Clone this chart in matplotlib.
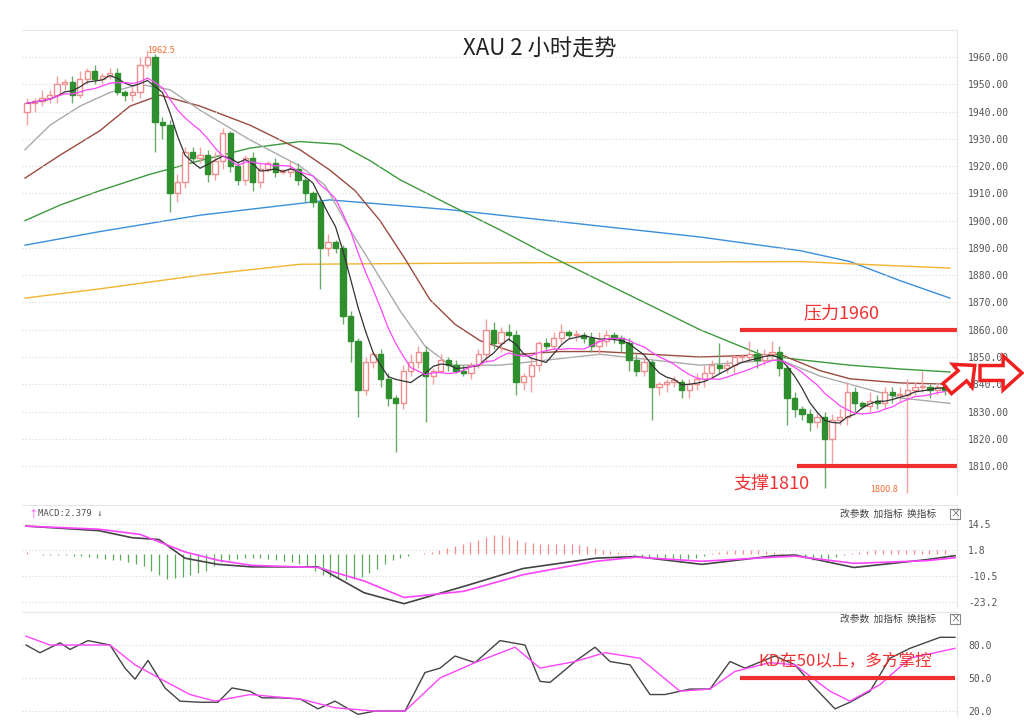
import matplotlib
matplotlib.use("Agg")
import matplotlib.pyplot as plt
import numpy as np
import pandas as pd
from matplotlib.patches import Rectangle, Polygon

plt.rcParams['font.family'] = ['Noto Sans CJK SC', 'DejaVu Sans']

closes = [1943,1944,1945,1946,1950,1951,1946,1952,1955,1952,1953,1954,1947,1946,1947,1957,1960,1936,
          1935,1910,1914,1925,1923,1924,1917,1922,1932,1920,1915,1923,1914,1919,1921,1918,1918,1919,
          1915,1910,1907,1890,1892,1890,1865,1856,1838,1848,1851,1842,1835,1833,1845,1848,1852,1843,
          1845,1849,1847,1845,1844,1847,1851,1860,1855,1859,1858,1841,1843,1847,1855,1854,1857,1859,
          1858,1858,1857,1854,1856,1858,1857,1855,1849,1845,1848,1839,1840,1841,1841,1838,1840,1842,
          1844,1847,1846,1847,1850,1850,1851,1849,1851,1852,1846,1835,1831,1829,1826,1828,1820,1827,
          1828,1837,1833,1832,1834,1833,1837,1836,1836,1838,1839,1839,1838,1839,1838]
first_open = 1940
wick_up = [2,1,3,2,3,1,2,3,1,2,1,2,2,1,2,3,2.5,1,
           2,2,3,2,2,3,2,3,2,1,2,1,2,2,1,2,1,3,
           2,1,1,2,3,1,1,2,1,2,1,2,2,1,2,3,2,2,
           1,2,1,2,2,1,2,4,3,2,3,2,1,3,1,2,2,3,
           1,2,1,2,3,2,1,1,2,2,2,1,1,1,2,1,2,2,
           3,2,8,2,1,1,5,2,2,4,2,1,2,1,2,2,2,2,
           3,4,2,1,3,2,2,2,3,4,2,6,1,2,1]
wick_dn = [5,3,2,2,3,2,3,1,2,2,2,1,1,2,2,2,1,11,
           5,7,3,2,2,2,3,2,3,2,2,2,3,2,1,2,1,2,
           2,3,2,15,3,2,3,8,10,2,2,3,3,18,2,2,2,17,
           3,1,2,1,1,2,1,3,2,3,2,5,3,6,2,2,1,2,
           1,2,2,2,3,2,2,3,4,2,2,12,3,3,2,3,3,2,
           3,2,2,2,3,2,2,3,2,2,3,10,3,2,3,2,18,9,
           2,3,3,1,2,2,2,3,2,36,2,2,3,2,2]

# moving-average readings: (x pixel, price)
ma_blue_x = [25,100,200,330,450,600,700,800,850,900,950]
ma_blue = [1891,1896,1902,1907.6,1904,1898,1894,1889,1885,1878,1871.6]
ma_orange_x = [25,100,200,300,500,800,880,950]
ma_orange = [1871.6,1875,1880,1884,1884.5,1885,1883.7,1882.6]
ma_green_x = [25,60,100,150,200,250,300,340,370,400,450,500,550,600,650,700,760,800,850,900,950]
ma_green = [1900,1905.7,1911,1917,1922,1926.6,1929,1928,1922,1915,1905.7,1896.6,1887,1878,1869,1860,1851,1849,1847,1845.6,1844.5]
ma_brown_x = [25,60,100,130,160,200,250,300,330,355,380,405,430,455,480,520,560,600,650,700,780,820,850,900,950]
ma_brown = [1915.6,1924,1933,1942,1946,1942,1935,1926,1918.5,1911,1900,1886,1871,1862,1856,1851,1852,1852,1851,1850,1851,1845,1842,1840.5,1840]
ma_gray_x = [25,50,80,110,140,170,200,250,300,325,350,375,400,425,450,500,600,700,780,820,850,900,950]
ma_gray = [1926,1935,1942,1947,1950,1948,1940.5,1929.6,1920,1913,1896.6,1882,1867,1854,1847,1847,1851,1847,1849,1843,1840,1835,1833]

# MACD readings (x pixel position, value)
dif_x = [26,99,132,159,185,218,252,318,364,404,464,523,596,636,702,775,795,854,927,955]
dif = [13.5,11.3,7.9,7,-2,-5,-6.2,-6.2,-18.7,-24,-15.6,-7,-2,-1.2,-5,-0.8,-0.5,-6.5,-2.7,-0.8]
dea_x = [26,99,140,185,218,252,318,364,404,464,523,596,636,702,775,795,854,927,955]
dea = [13.5,12,9.5,1,-3,-5.5,-6.5,-13,-21,-18,-10,-3.5,-1.5,-3.5,-1.5,-1,-4.5,-3.2,-1.8]
hist = [1,0,-0.5,-0.5,-0.5,-0.6,-0.8,-1,-1.5,-2,-2.5,-3,-3,-4,-5,-6,-8,-10,-12,-11.8,-11,-10,-9,-8,
        -6,-4,-3,-2.5,-2,-2,-2,-2.5,-3,-3.5,-4,-5,-6,-8,-10,-11,-12,-12.6,-12,-11,-9,-7,-5,-3,-2,-1,
        0,0.5,1,2,3,4,5,6,7,8,9,9,8,7,6,5.5,5,5,5,5,5,4.5,4,3,2,1.5,1,0.5,-0.5,-1,-1.5,-2,-2.5,-3,-3,
        -2.5,-2,-1,0.5,1,1.5,2,2,2,2,1.5,1,0.5,-0.5,-1,-2,-3,-3,-2.5,-1.5,-0.5,0.5,1,1.5,2,2,2,2,2,2,1.5,2,2,2]

# KD readings (x pixel, value)
k_x = [26,40,60,70,88,110,125,135,148,165,180,200,218,232,250,262,280,300,318,335,358,375,405,425,440,455,475,500,525,540,550,575,595,610,630,650,665,690,710,730,745,775,795,815,835,850,870,890,910,940,955]
k_v = [80,73,82,76,84,80,59,49,66,41,29,28,28,41,38,32,32,31,22,29,17,20,20,55,59,70,64,84,80,47,46,65,78,65,62,35,35,40,40,65,59,70,62,41,22,28,38,68,77,87,87]
d_x = [26,50,110,135,165,190,215,250,300,335,375,405,440,475,515,540,575,605,640,680,710,735,770,795,830,850,880,910,955]
d_v = [88,80,80,62,47,35,29,35,31,23,20,20,50,64,78,59,65,73,68,38,40,56,64,62,38,29,44,68,77]

price_ticks = list(range(1810, 1961, 10))

W, H = 1024, 720
fig = plt.figure(figsize=(W/100, H/100), dpi=100)
fig.patch.set_facecolor('white')
x0, x1 = 22, 957
step = (945 - 27) / (len(closes) - 1)
def px2i(px):
    return (np.asarray(px) - 27) / step
xl = (px2i(x0), px2i(x1))

def mk(top, bot):
    ax = fig.add_axes([x0/W, 1-bot/H, (x1-x0)/W, (bot-top)/H])
    ax.set_xlim(*xl)
    for k, s in ax.spines.items():
        s.set_color('#e6e6e6')
        if k in ('left', 'bottom'):
            s.set_visible(False)
    ax.yaxis.tick_right()
    ax.tick_params(axis='y', length=0, labelsize=7, colors='#555555', pad=8)
    ax.set_xticks([])
    return ax

ax = mk(30, 495)
ax.set_ylim(1799.4, 1969.9)
ax.set_yticks(price_ticks)
ax.set_yticklabels([f"{t:.2f}" for t in price_ticks], family='DejaVu Sans Mono')
ax.grid(axis='y', color='#d8d8d8', linestyle=(0, (1, 2)), lw=0.8)

opens = [first_open] + closes[:-1]
for i, (o, c) in enumerate(zip(opens, closes)):
    hi = max(o, c) + wick_up[i]
    lo = min(o, c) - wick_dn[i]
    up = c >= o
    col = '#f08c8c' if up else '#2f8f2f'
    ax.vlines(i, lo, hi, color='#f4a0a0' if up else '#6aaa6a', lw=1, zorder=2)
    body = max(abs(c - o), 0.4)
    ax.add_patch(Rectangle((i - 0.35, min(o, c)), 0.7, body,
                           facecolor='white' if up else col, edgecolor=col, lw=1, zorder=3))

ax.plot(px2i(ma_blue_x), ma_blue, color='#3a8fdc', lw=1, zorder=1)
ax.plot(px2i(ma_orange_x), ma_orange, color='#f5b330', lw=1, zorder=1)
ax.plot(px2i(ma_green_x), ma_green, color='#3c9a3c', lw=1, zorder=1)
ax.plot(px2i(ma_brown_x), ma_brown, color='#9b4a3e', lw=1, zorder=1)
ax.plot(px2i(ma_gray_x), ma_gray, color='#aaaaaa', lw=1, zorder=1)
cs = pd.Series(closes)
ax.plot(cs.rolling(5, min_periods=1).mean(), color='#333333', lw=0.9, zorder=4)
ax.plot(cs.rolling(10, min_periods=1).mean(), color='#ff44ff', lw=0.9, zorder=4)

ax.text(16, 1962.5, "1962.5", color='#f07030', fontsize=6.5, va='center')
ax.text(px2i(870), 1801.5, "1800.8", color='#f07030', fontsize=6.5, va='center')
ax.hlines(1860, px2i(740), px2i(957), color='#f03030', lw=3)
ax.hlines(1810, px2i(797), px2i(957), color='#f03030', lw=3)
ax.text(px2i(803), 1866, "压力1960", color='#f03030', fontsize=13, va='center')
ax.text(px2i(733), 1803.5, "支撑1810", color='#f03030', fontsize=13, va='center')
ax.text(px2i(540), 1963, "XAU 2 小时走势", color='#222222', fontsize=16, ha='center', va='center')

# MACD
axm = mk(505, 607)
axm.set_ylim(-25.6, 23.7)
mt = [14.5, 1.8, -10.5, -23.2]
axm.set_yticks(mt); axm.set_yticklabels([str(t) for t in mt], family='DejaVu Sans Mono')
axm.grid(axis='y', color='#d8d8d8', linestyle=(0, (1, 2)), lw=0.8)
hx = np.arange(len(hist)) * (len(closes) - 1) / (len(hist) - 1)
axm.vlines(hx, 0, hist, colors=['#f08c8c' if h > 0 else '#5aaa5a' for h in hist], lw=0.9)
axm.plot(px2i(dif_x), dif, color='#444444', lw=1.2)
axm.plot(px2i(dea_x), dea, color='#ff44ff', lw=1.2)

# KD
axk = mk(612, 716)
axk.set_ylim(15.5, 110)
kt = [80, 50, 20]
axk.set_yticks(kt); axk.set_yticklabels([f"{t:.1f}" for t in kt], family='DejaVu Sans Mono')
axk.grid(axis='y', color='#d8d8d8', linestyle=(0, (1, 2)), lw=0.8)
axk.plot(px2i(k_x), k_v, color='#444444', lw=1)
axk.plot(px2i(d_x), d_v, color='#ff44ff', lw=1)
axk.hlines(50, px2i(740), px2i(955), color='#f03030', lw=3)
axk.text(px2i(758), 66, "KD在50以上，多方掌控", color='#f03030', fontsize=12, va='center')

def ft(x, y, s, **kw):
    fig.text(x/W, 1-y/H, s, **kw)
ft(28, 514, "↑", color='#ff44ff', fontsize=7, va='center')
ft(38, 514, "MACD:2.379 ↓", color='#555555', fontsize=6.5, va='center', family='DejaVu Sans Mono')
for yy in (514, 619):
    ft(840, yy, "改参数  加指标  换指标", color='#444444', fontsize=7, va='center')
    fig.add_artist(Rectangle((950/W, 1-(yy+5)/H), 10/W, 10/H, transform=fig.transFigure,
                             fill=False, edgecolor='#888888', lw=0.8))
    ft(955, yy, "×", color='#666666', fontsize=7, ha='center', va='center')

# block arrows (shape in local units, length 1 along +x)
shape = np.array([(0, -0.22), (0.55, -0.22), (0.55, -0.5), (1, 0), (0.55, 0.5), (0.55, 0.22), (0, 0.22)])
def arrow(cx, cy, length, width, ang):
    a = np.deg2rad(ang)
    pts = shape * [length, width]
    pts[:, 0] -= length / 2
    rx = pts[:, 0] * np.cos(a) - pts[:, 1] * np.sin(a)
    ry = pts[:, 0] * np.sin(a) + pts[:, 1] * np.cos(a)
    fig.add_artist(Polygon([((cx + x)/W, 1-(cy - y)/H) for x, y in zip(rx, ry)], closed=True,
                           transform=fig.transFigure, facecolor='white', edgecolor='#f02020',
                           lw=2.5, zorder=10))
arrow(961, 377, 36, 30, 40)
arrow(1001, 373, 42, 34, 0)

fig.savefig("out.png", dpi=100)
